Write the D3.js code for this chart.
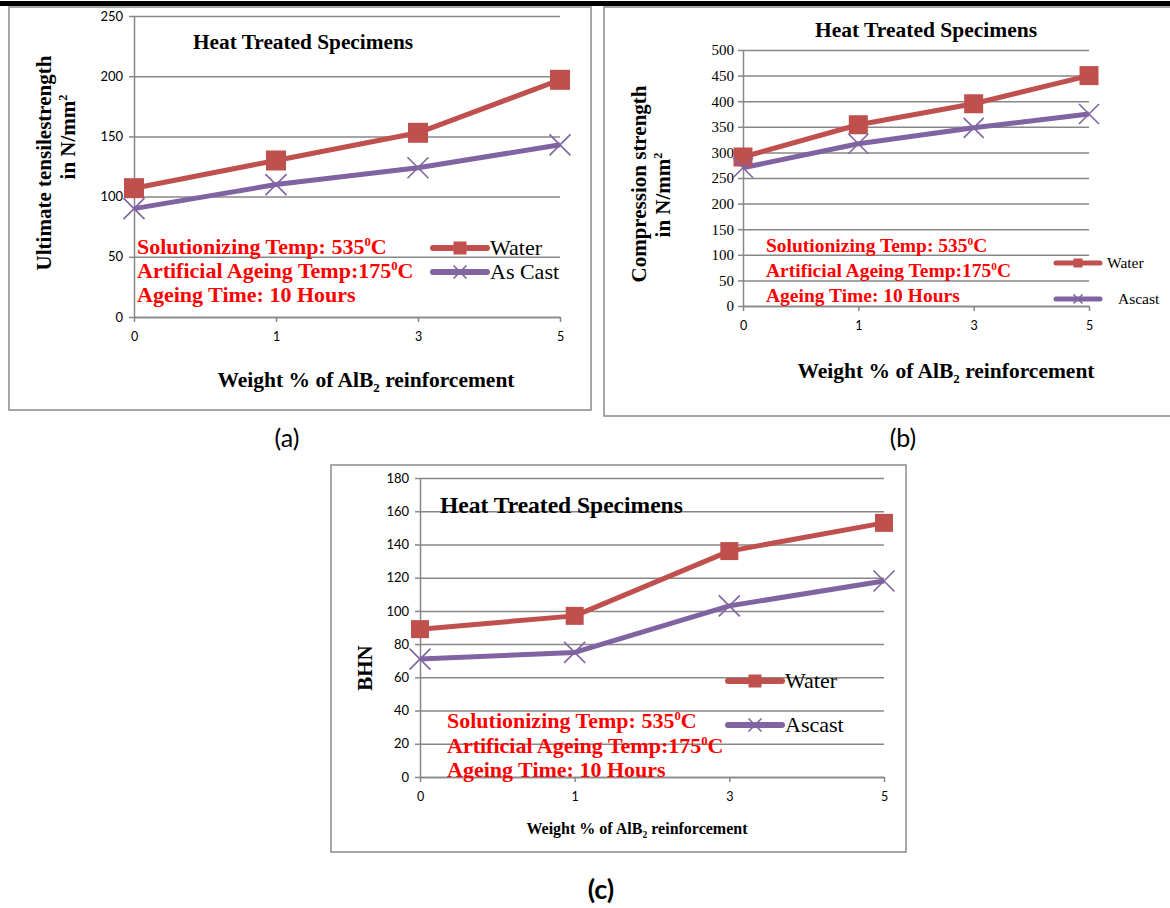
<!DOCTYPE html>
<html><head><meta charset="utf-8">
<script src="https://cdn.jsdelivr.net/npm/d3@7"></script>
<style>body{margin:0;background:#fff;} svg{display:block;}</style>
</head><body>
<svg id="c" width="1170" height="908"></svg>
<script>
// ---------- DATA ----------
const categories = ["0", "1", "3", "5"];
const tensileWater = [107, 130, 153, 197];
const tensileAsCast = [90, 110, 124, 143];
const compWater = [291, 354, 395, 450];
const compAscast = [270, 317, 348, 375];
const bhnWater = [89, 97, 136, 153];
const bhnAscast = [71, 75, 103, 118];
const tensileTicks = [0, 50, 100, 150, 200, 250];
const compTicks = [0, 50, 100, 150, 200, 250, 300, 350, 400, 450, 500];
const bhnTicks = [0, 20, 40, 60, 80, 100, 120, 140, 160, 180];
const seriesNamesA = ["Water", "As Cast"];
const seriesNamesB = ["Water", "Ascast"];
const seriesNamesC = ["Water", "Ascast"];
const conditionLines = [
  [["Solutionizing Temp: 535", ""], ["0", "sup"], ["C", ""]],
  [["Artificial Ageing Temp:175", ""], ["0", "sup"], ["C", ""]],
  [["Ageing Time: 10 Hours", ""]]
];
const xTitleParts = [["Weight % of AlB", ""], ["2", "sub"], [" reinforcement", ""]];
const xTitlePartsC = [["Weight % of  AlB", ""], ["2", "sub"], [" reinforcement", ""]];

const RED = "#C0504D", PURPLE = "#8064A2", GRID = "#878787";
const SERIF = "'Liberation Serif','Times New Roman',serif";
const SANS = "Lato,'Open Sans',sans-serif";

const svg = d3.select("#c");

// top black rule
svg.append("rect").attr("x", 0).attr("y", 1).attr("width", 1170).attr("height", 5).attr("fill", "#000");

function rich(g, parts, opts) {
  const t = g.append("text")
    .attr("x", opts.x).attr("y", opts.y)
    .attr("font-family", opts.family || SERIF)
    .attr("font-size", opts.size)
    .attr("font-weight", opts.weight || "normal")
    .attr("fill", opts.fill || "#000")
    .attr("text-anchor", opts.anchor || "start");
  if (opts.rotate) t.attr("transform", `rotate(-90,${opts.x},${opts.y})`);
  parts.forEach(([s, kind]) => {
    const ts = t.append("tspan").text(s);
    if (kind === "sup") ts.attr("font-size", opts.size * 0.58).attr("dy", -opts.size * 0.36);
    else if (kind === "sub") ts.attr("font-size", opts.size * 0.6).attr("dy", opts.size * 0.25);
    else if (kind === "" && ts.node().previousSibling) {
      const prev = d3.select(ts.node().previousSibling);
      ts.attr("dy", prev.attr("dy") ? -(+prev.attr("dy")) : null);
    }
  });
  return t;
}

function marker(g, kind, x, y, size, color) {
  if (kind === "square") {
    g.append("rect").attr("x", x - size / 2).attr("y", y - size / 2)
      .attr("width", size).attr("height", size).attr("fill", color);
  } else {
    const h = size / 2;
    g.append("path").attr("d", `M${x - h},${y - h}L${x + h},${y + h}M${x - h},${y + h}L${x + h},${y - h}`)
      .attr("stroke", color).attr("stroke-width", 1.6).attr("fill", "none");
  }
}

function panel(cfg) {
  const g = svg.append("g");
  g.append("rect").attr("x", cfg.box[0]).attr("y", cfg.box[1]).attr("width", cfg.box[2]).attr("height", cfg.box[3])
    .attr("fill", "#fff").attr("stroke", "#8a8a8a").attr("stroke-width", 1.5);

  const x = d3.scalePoint().domain(categories).range([cfg.x0, cfg.x1]).padding(0);
  const y = d3.scaleLinear().domain([0, d3.max(cfg.ticks)]).range([cfg.yBottom, cfg.yTop]);

  // gridlines
  g.append("g").attr("transform", `translate(${cfg.x0},0)`)
    .call(d3.axisLeft(y).tickValues(cfg.ticks).tickSize(-(cfg.x1 - cfg.x0)).tickFormat(""))
    .call(s => s.select(".domain").remove())
    .call(s => s.selectAll("line").attr("stroke", GRID).attr("stroke-width", 1.5));

  // y axis
  g.append("g").attr("transform", `translate(${cfg.x0},0)`)
    .call(d3.axisLeft(y).tickValues(cfg.ticks).tickSize(5).tickPadding(cfg.yPad).tickSizeOuter(0))
    .call(s => s.select(".domain").attr("stroke", GRID).attr("stroke-width", 1.5))
    .call(s => s.selectAll("line").attr("stroke", GRID).attr("stroke-width", 1.5))
    .call(s => s.selectAll("text").attr("font-family", cfg.yFont).attr("font-size", cfg.ySize).attr("fill", "#000"));

  // x axis
  g.append("g").attr("transform", `translate(0,${cfg.yBottom})`)
    .call(d3.axisBottom(x).tickSize(5).tickPadding(cfg.xPad).tickSizeOuter(0))
    .call(s => s.select(".domain").attr("stroke", GRID).attr("stroke-width", 1.5))
    .call(s => s.selectAll("line").attr("stroke", GRID).attr("stroke-width", 1.5))
    .call(s => s.selectAll("text").attr("font-family", SANS).attr("font-size", cfg.xSize).attr("fill", "#000"));

  // series
  const line = d3.line().x((d, i) => x(categories[i])).y(d => y(d));
  const series = [
    { vals: cfg.s1, color: RED, kind: "square", ms: cfg.ms },
    { vals: cfg.s2, color: PURPLE, kind: "x", ms: cfg.xs }
  ];
  series.forEach(s => {
    g.append("path").datum(s.vals).attr("d", line).attr("fill", "none")
      .attr("stroke", s.color).attr("stroke-width", cfg.lw).attr("stroke-linejoin", "round");
  });
  series.forEach(s => {
    s.vals.forEach((v, i) => marker(g, s.kind, x(categories[i]), y(v), s.ms, s.color));
  });

  // title
  g.append("text").attr("x", cfg.title[0]).attr("y", cfg.title[1]).attr("text-anchor", cfg.title[2])
    .attr("font-family", SERIF).attr("font-weight", "bold").attr("font-size", cfg.titleSize).text("Heat Treated Specimens");

  // y title
  cfg.yTitle.forEach(t => {
    rich(g, t.parts, { x: t.x, y: t.y, size: cfg.yTitleSize, weight: "bold", anchor: "middle", rotate: true });
  });

  // x title
  rich(g, cfg.xTitleParts, { x: cfg.xTitle[0], y: cfg.xTitle[1], size: cfg.xTitleSize, weight: "bold", anchor: "middle" });

  // conditions
  conditionLines.forEach((parts, i) => {
    rich(g, parts, { x: cfg.cond[0], y: cfg.cond[1] + i * cfg.cond[2], size: cfg.condSize, weight: "bold", fill: "#FF0000" });
  });

  // legend
  cfg.legend.forEach((L, i) => {
    const s = series[i];
    g.append("line").attr("x1", L.x1).attr("x2", L.x2).attr("y1", L.y).attr("y2", L.y)
      .attr("stroke", s.color).attr("stroke-width", cfg.legLw).attr("stroke-linecap", "round");
    marker(g, s.kind, (L.x1 + L.x2) / 2, L.y, cfg.legMs, s.color);
    g.append("text").attr("x", L.tx).attr("y", L.y + cfg.legSize * 0.33)
      .attr("font-family", SERIF).attr("font-size", cfg.legSize).text(cfg.names[i]);
  });
}

panel({
  box: [9, 7, 582, 403],
  x0: 134, x1: 560, yTop: 16, yBottom: 317, ticks: tensileTicks,
  yFont: SANS, ySize: 13, yPad: 6, xSize: 12.5, xPad: 10,
  s1: tensileWater, s2: tensileAsCast, lw: 5, ms: 20, xs: 21,
  title: [193, 49, "start"], titleSize: 21.3,
  yTitle: [
    { parts: [["Ultimate tensilestrength", ""]], x: 51, y: 163 },
    { parts: [["in N/mm", ""], ["2", "sup"]], x: 75, y: 137 }
  ], yTitleSize: 21,
  xTitleParts: xTitleParts, xTitle: [366, 387], xTitleSize: 21.5,
  cond: [137, 254, 24], condSize: 22,
  legend: [{ x1: 433, x2: 487, y: 248, tx: 490 }, { x1: 433, x2: 487, y: 272, tx: 490 }],
  legLw: 6, legMs: 13, legSize: 22, names: seriesNamesA
});

panel({
  box: [604, 7, 620, 409],
  x0: 743, x1: 1089, yTop: 50, yBottom: 306, ticks: compTicks,
  yFont: SERIF, ySize: 15, yPad: 4, xSize: 12.5, xPad: 10,
  s1: compWater, s2: compAscast, lw: 5, ms: 19, xs: 20,
  title: [926, 37, "middle"], titleSize: 21.5,
  yTitle: [
    { parts: [["Compression strength", ""]], x: 646, y: 184 },
    { parts: [["in N/mm", ""], ["2", "sup"]], x: 670, y: 195 }
  ], yTitleSize: 21,
  xTitleParts: xTitleParts, xTitle: [946, 378], xTitleSize: 21.5,
  cond: [766, 252, 25], condSize: 19.5,
  legend: [{ x1: 1056, x2: 1100, y: 263, tx: 1107 }, { x1: 1056, x2: 1100, y: 299, tx: 1118 }],
  legLw: 5, legMs: 9, legSize: 15.5, names: seriesNamesB
});

panel({
  box: [331, 465, 575, 387],
  x0: 420, x1: 884, yTop: 478, yBottom: 777, ticks: bhnTicks,
  yFont: SANS, ySize: 13, yPad: 6, xSize: 12.5, xPad: 10,
  s1: bhnWater, s2: bhnAscast, lw: 5, ms: 18, xs: 21,
  title: [440, 513, "start"], titleSize: 23.5,
  yTitle: [
    { parts: [["BHN", ""]], x: 372, y: 668 }
  ], yTitleSize: 21,
  xTitleParts: xTitlePartsC, xTitle: [637, 834], xTitleSize: 16,
  cond: [447, 728, 24.5], condSize: 22,
  legend: [{ x1: 728, x2: 782, y: 681, tx: 785 }, { x1: 728, x2: 782, y: 725, tx: 785 }],
  legLw: 6, legMs: 13, legSize: 22, names: seriesNamesC
});

// panel captions
svg.append("text").attr("x", 287).attr("y", 447).attr("text-anchor", "middle")
  .attr("font-family", SANS).attr("font-size", 25).text("(a)");
svg.append("text").attr("x", 903).attr("y", 447).attr("text-anchor", "middle")
  .attr("font-family", SANS).attr("font-size", 25).text("(b)");
svg.append("text").attr("x", 601).attr("y", 899).attr("text-anchor", "middle")
  .attr("font-family", SANS).attr("font-weight", "bold").attr("font-size", 27).text("(c)");
</script>
</body></html>
